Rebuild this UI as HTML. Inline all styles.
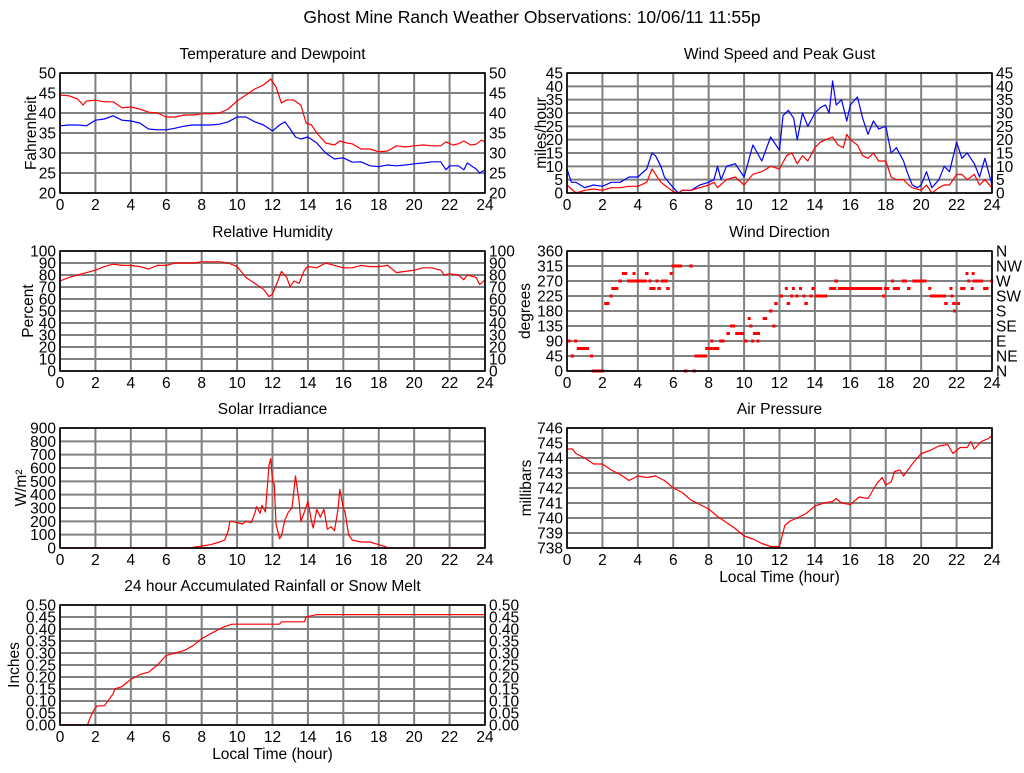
<!DOCTYPE html>
<html><head><meta charset="utf-8"><style>
html,body{margin:0;padding:0;background:#fff;}
svg text{font-family:"Liberation Sans",sans-serif;fill:#000;}
</style></head><body>
<svg id="c" width="1024" height="768" viewBox="0 0 1024 768" xmlns="http://www.w3.org/2000/svg">
<text x="532" y="23" font-size="17.5" text-anchor="middle">Ghost Mine Ranch Weather Observations: 10/06/11 11:55p</text>
</svg>
<script>
const xTicks=[0,2,4,6,8,10,12,14,16,18,20,22,24];
const tempHours=[0,0.5,1,1.3,1.5,2,2.5,3,3.5,4,4.5,5,5.5,6,6.5,7,7.5,8,8.5,9,9.5,10,10.5,11,11.5,11.9,12.2,12.5,12.8,13.2,13.6,13.9,14.2,14.5,15,15.5,15.8,16.2,16.5,17,17.5,18,18.5,19,19.5,20,20.5,21,21.5,21.8,22.2,22.5,22.8,23.2,23.5,23.8,24];
const tempValues=[44.5,44.3,43.5,42,43,43.2,42.8,42.8,41.3,41.5,41,40.2,40,39,39,39.5,39.5,39.8,39.8,40,41,43,44.5,46,47,48.5,46.5,42.5,43.3,43.2,42,37.5,37,35,32.5,32,33,32.5,32.3,31,31,30.3,30.5,31.8,31.5,31.8,32,31.8,31.8,32.8,32,32.3,33,32,32.2,33.2,32.8];
const dewHours=[0,0.5,1,1.5,2,2.5,3,3.5,4,4.5,5,5.5,6,6.5,7,7.5,8,8.5,9,9.5,10,10.5,11,11.5,12,12.4,12.7,13,13.3,13.6,14,14.5,15,15.5,16,16.5,17,17.5,18,18.5,19,19.5,20,20.5,21,21.5,21.8,22,22.5,22.8,23,23.5,23.7,24];
const dewValues=[36.8,37,37,36.8,38.2,38.5,39.3,38.2,38,37.5,36,35.8,35.8,36.2,36.7,37,37,37,37.2,37.8,39,39,37.8,37,35.5,37,37.8,36,34,33.5,34,32.5,30,28.5,28.8,27.7,27.8,26.8,26.6,27,26.8,27,27.3,27.5,27.8,27.8,25.8,26.8,26.8,25.8,27.5,26,25,25.8];
const gustHours=[0,0.25,0.5,1,1.5,2,2.5,3,3.5,4,4.5,4.8,5,5.3,5.5,6,6.3,6.5,7,7.5,8,8.3,8.5,8.7,9,9.5,10,10.5,11,11.5,12,12.2,12.5,12.8,13,13.3,13.6,14,14.3,14.6,14.8,15,15.2,15.5,15.8,16,16.4,16.7,17,17.3,17.6,18,18.3,18.6,19,19.2,19.5,19.8,20,20.3,20.6,21,21.3,21.6,22,22.3,22.6,23,23.3,23.6,24];
const gustValues=[9,4,4,2,3,2.5,4,4,6,6,9,15,14,10,6,2,0,1,1,3,4,5,10,5,10,11,6,18,12,21,16,29,31,28,20,30,25,30,32,33,30,42,33,35,27,33,36,28,22,27,24,25,15,17,12,8,3,2,3,8,2,5,10,8,19,13,15,11,6,13,3];
const windHours=[0,0.5,1,1.5,2,2.5,3,3.5,4,4.5,4.8,5,5.3,5.5,6,6.3,6.5,7,7.5,8,8.3,8.5,9,9.5,10,10.5,11,11.5,12,12.4,12.7,13,13.3,13.6,14,14.3,14.6,15,15.3,15.6,15.8,16,16.4,16.7,17,17.3,17.6,18,18.3,18.6,19,19.3,19.5,20,20.3,20.6,21,21.3,21.6,22,22.3,22.6,23,23.3,23.6,24];
const windValues=[3,0,1,1.5,1,2,2,2.5,2.5,4,9,7,4,3,0.5,0,1,1,2,3,4,2,5,6,3,7,8,10,9,14,15,11,14,12,17,19,20,21,18,17,22,20,18,14,13,15,12,12,6,5,5,3,2,1,3,0,2,3,3,7,7,5,7,3,5,2];
const rhHours=[0,0.5,1,1.5,2,2.5,3,3.5,4,4.5,5,5.5,6,6.5,7,7.5,8,8.5,9,9.5,10,10.5,11,11.5,11.8,12,12.3,12.5,12.8,13,13.2,13.5,13.8,14,14.5,15,15.5,16,16.5,17,17.5,18,18.5,19,19.5,20,20.5,21,21.5,21.7,22,22.5,22.8,23,23.5,23.7,24];
const rhValues=[75,78,80,82,84,87,89,88,88,87,85,88,88,90,90,90,91,91,91,90,87,78,73,68,62,64,75,83,78,70,75,73,84,87,86,90,88,86,86,88,87,87,88,82,83,84,86,86,84,80,81,80,76,80,78,72,76];
const dirStart=[0,0.2,0.4,0.55,1.3,1.4,2.1,2.4,2.5,2.9,3.1,3.4,3.7,4.4,4.6,4.65,5,5.1,5.3,5.6,5.8,5.9,6.6,6.9,7.1,7.2,7.8,8.1,8.2,8.6,9,9.2,9.5,10,10.2,10.3,10.4,10.5,10.7,11.05,11.4,11.6,11.7,12,12.3,12.4,12.6,12.7,12.9,13.1,13.3,13.4,13.7,13.8,14,14.8,15.1,15.3,17.8,17.9,18.3,18.4,18.9,19.2,19.5,20.4,20.5,21.3,21.6,21.65,21.75,21.8,22,22.2,22.5,22.6,22.8,22.85,22.9,23.5,23.9];
const dirEnd=[0.2,0.4,0.55,1.25,1.35,2.1,2.4,2.45,2.9,3.1,3.4,4.5,3.8,4.6,4.62,5,5.05,5.3,5.7,5.8,5.85,6.5,6.8,7.1,7.15,7.9,8.2,8.15,8.6,8.9,9.2,9.5,10,10.2,10.25,10.35,10.45,10.9,10.75,11.3,11.6,11.65,11.9,12.2,12.35,12.6,12.65,12.75,12.95,13.15,13.35,13.6,13.75,14,14.7,15.2,15.3,17.8,17.85,18.2,18.35,18.8,19.2,19.4,20.3,20.45,21.4,21.5,21.65,21.7,21.95,21.9,22.2,22.5,22.55,22.65,22.85,22.9,23.5,23.8,24];
const dirDeg=[90,45,90,67.5,45,0,202.5,225,247.5,270,292.5,270,292.5,292.5,270,247.5,270,247.5,270,247.5,292.5,315,0,315,0,45,67.5,90,67.5,90,112.5,135,112.5,90,157.5,135,90,112.5,90,157.5,180,135,202.5,225,247.5,202.5,225,247.5,225,247.5,225,202.5,225,247.5,225,247.5,270,247.5,225,247.5,270,247.5,270,247.5,270,247.5,225,202.5,247.5,225,202.5,180,202.5,247.5,292.5,270,247.5,292.5,270,247.5,270];
const dirLabels=["N","NE","E","SE","S","SW","W","NW","N"];
const solarHours=[0,7.3,7.5,8,8.5,9,9.3,9.5,9.6,9.7,10,10.3,10.5,10.8,11,11.1,11.3,11.4,11.6,11.8,11.9,12,12.1,12.2,12.4,12.5,12.7,12.9,13.1,13.3,13.5,13.6,13.8,14,14.2,14.3,14.5,14.7,14.9,15.1,15.3,15.5,15.7,15.8,16,16.1,16.2,16.3,16.5,17,17.5,18,18.4,18.5,24];
const solarValues=[0,0,5,15,25,45,60,130,200,200,190,180,200,190,260,310,260,320,270,620,670,500,480,180,70,90,210,270,300,540,350,200,270,350,200,150,290,230,290,140,160,130,290,440,300,270,180,100,60,45,45,25,10,0,0];
const presHours=[0,0.3,0.5,1,1.5,2,2.5,3,3.5,4,4.5,5,5.5,6,6.5,7,7.5,8,8.5,9,9.5,10,10.5,11,11.5,12,12.3,12.6,13,13.5,14,14.5,15,15.2,15.5,16,16.5,17,17.5,17.8,18,18.3,18.5,18.8,19,19.5,20,20.5,21,21.5,21.8,22.2,22.6,22.8,23,23.4,23.8,24];
const presValues=[744.6,744.6,744.3,744,743.6,743.6,743.2,742.9,742.5,742.8,742.7,742.8,742.5,742,741.7,741.2,740.9,740.6,740.1,739.7,739.3,738.8,738.6,738.3,738.1,738.1,739.5,739.8,740,740.3,740.8,741,741.1,741.3,741,740.9,741.4,741.3,742.3,742.7,742.2,742.4,743.1,743.2,742.8,743.6,744.3,744.5,744.8,744.9,744.3,744.7,744.7,745.1,744.6,745.1,745.3,745.5];
const rainHours=[0,1.55,1.7,1.9,2.1,2.5,3,3.1,3.5,4,4.5,5,5.5,6,6.5,7,7.5,8,8.5,9,9.3,9.7,12.4,12.5,13.8,13.9,14.5,24];
const rainValues=[0,0,0.03,0.06,0.08,0.08,0.13,0.15,0.16,0.19,0.21,0.22,0.25,0.29,0.3,0.31,0.33,0.36,0.38,0.40,0.41,0.42,0.42,0.43,0.43,0.45,0.46,0.46];

const svg=document.getElementById('c');
const NS='http://www.w3.org/2000/svg';
const FS=15.5;
function mk(tag,attrs,parent){const e=document.createElementNS(NS,tag);for(const k in attrs)e.setAttribute(k,attrs[k]);(parent||svg).appendChild(e);return e;}
function txt(s,x,y,anchor,size,parent){const t=mk('text',{x:x,y:y,'text-anchor':anchor,'font-size':size},parent);t.textContent=s;return t;}

function panel(o){
  const g=mk('g',{});
  
  
  const X=h=>o.x0+(h/24)*(o.x1-o.x0);
  const Y=v=>o.y1-(v-o.min)/(o.max-o.min)*(o.y1-o.y0);
  const t=txt(o.title,(o.x0+o.x1)/2,o.y0-14,'middle',FS,g);
  
  
  const grid=mk('g',{stroke:'#808080','stroke-width':2},g);
  
  
  xTicks.forEach(h=>{mk('line',{x1:X(h),x2:X(h),y1:o.y0,y2:o.y1},grid);});
  const yt=[];for(let v=o.min;v<=o.max+1e-9;v+=o.step)yt.push(v);
  yt.forEach(v=>{mk('line',{x1:o.x0,x2:o.x1,y1:Y(v),y2:Y(v)},grid);});
  const lab=mk('g',{},g);
  
  
  yt.forEach((v,i)=>{const s=o.fmt(v);txt(s,o.x0-4,Y(v)+5.5,'end',FS,lab);
    if(o.rightLabels)txt(o.rightLabels[i],o.x1+4,Y(v)+5.5,'start',FS,lab);
    else if(o.right)txt(s,o.x1+4,Y(v)+5.5,'start',FS,lab);});
  xTicks.forEach(h=>txt(String(h),X(h),o.y1+17,'middle',FS,lab));
  const yl=txt(o.ylabel,0,0,'middle',FS,g);
  yl.setAttribute('transform','translate('+o.ylx+','+((o.y0+o.y1)/2)+') rotate(-90)');
  
  
  if(o.xlabel){const xl=txt('Local Time (hour)',(o.x0+o.x1)/2,o.y1+34,'middle',FS,g);
    
    }
  (o.series||[]).forEach(s=>{
    const pts=s.h.map((h,i)=>X(h).toFixed(1)+','+Y(s.v[i]).toFixed(1)).join(' ');
    const p=mk('polyline',{points:pts,fill:'none',stroke:s.c,'stroke-width':1.2,'stroke-linejoin':'round'},g);
    
    
  });
  if(o.segs){const sg=mk('g',{fill:'#ff0000'},g);
    
    
    o.segs.s.forEach((st,i)=>{const r=mk('rect',{x:X(st),y:Y(o.segs.d[i])-1.5,width:Math.max(3,X(o.segs.e[i])-X(st)),height:3},sg);
      
      });}
  const b=mk('rect',{x:o.x0,y:o.y0,width:o.x1-o.x0,height:o.y1-o.y0,fill:'none',stroke:'#000','stroke-width':1.5},g);
  
  
}
const L0=60,L1=485,R0=567,R1=992;
const f0=v=>String(Math.round(v)), f2=v=>v.toFixed(2);
panel({name:'temperature-panel',title:'Temperature and Dewpoint',x0:L0,x1:L1,y0:73,y1:193,min:20,max:50,step:5,fmt:f0,right:true,ylabel:'Fahrenheit',ylx:36,
  series:[{name:'temperature-line',h:tempHours,v:tempValues,c:'#ff0000'},{name:'dewpoint-line',h:dewHours,v:dewValues,c:'#0000ff'}]});
panel({name:'wind-speed-panel',title:'Wind Speed and Peak Gust',x0:R0,x1:R1,y0:73,y1:193,min:0,max:45,step:5,fmt:f0,right:true,ylabel:'miles/hour',ylx:546,
  series:[{name:'gust-line',h:gustHours,v:gustValues,c:'#0000ff'},{name:'wind-speed-line',h:windHours,v:windValues,c:'#ff0000'}]});
panel({name:'humidity-panel',title:'Relative Humidity',x0:L0,x1:L1,y0:251,y1:371,min:0,max:100,step:10,fmt:f0,right:true,ylabel:'Percent',ylx:33,
  series:[{name:'humidity-line',h:rhHours,v:rhValues,c:'#ff0000'}]});
panel({name:'wind-direction-panel',title:'Wind Direction',x0:R0,x1:R1,y0:251,y1:371,min:0,max:360,step:45,fmt:f0,rightLabels:dirLabels,ylabel:'degrees',ylx:530,
  segs:{s:dirStart,e:dirEnd,d:dirDeg}});
panel({name:'solar-panel',title:'Solar Irradiance',x0:L0,x1:L1,y0:428,y1:548,min:0,max:900,step:100,fmt:f0,ylabel:'W/m\u00B2',ylx:26,
  series:[{name:'solar-line',h:solarHours,v:solarValues,c:'#ff0000'}]});
panel({name:'pressure-panel',title:'Air Pressure',x0:R0,x1:R1,y0:428,y1:548,min:738,max:746,step:1,fmt:f0,ylabel:'millibars',ylx:531,xlabel:true,
  series:[{name:'pressure-line',h:presHours,v:presValues,c:'#ff0000'}]});
panel({name:'rainfall-panel',title:'24 hour Accumulated Rainfall or Snow Melt',x0:L0,x1:L1,y0:605,y1:725,min:0,max:0.5,step:0.05,fmt:f2,right:true,ylabel:'Inches',ylx:19,xlabel:true,
  series:[{name:'rainfall-line',h:rainHours,v:rainValues,c:'#ff0000'}]});
</script>
</body></html>
